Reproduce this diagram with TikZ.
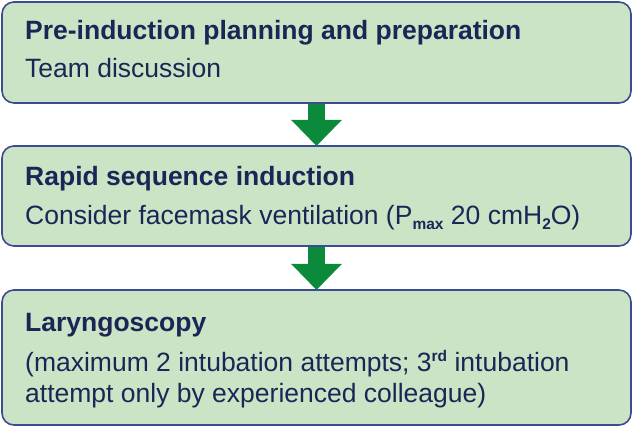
\documentclass[tikz,border=0pt]{standalone}
\usepackage{fontspec}
\setmainfont{Liberation Sans}
\usetikzlibrary{arrows.meta}
\definecolor{boxfill}{HTML}{CCE4C6}
\definecolor{boxline}{HTML}{3D4A94}
\definecolor{inktext}{HTML}{1C2555}
\definecolor{flowgreen}{HTML}{0B8A3B}
\newcommand{\lowidx}[1]{\raisebox{-0.35ex}{\fontsize{15.5}{15.5}\selectfont\bfseries #1}}
\newcommand{\highidx}[1]{\raisebox{0.75ex}{\fontsize{15.5}{15.5}\selectfont\bfseries #1}}
\tikzset{
  stage/.style={draw=boxline, line width=1.6pt, fill=boxfill, rounded corners=12pt,
    minimum width=629pt, inner sep=0pt, outer sep=0pt},
  heading/.style={anchor=base west, inner sep=0pt, text=inktext,
    font=\fontsize{26.5}{30}\selectfont\bfseries},
  body/.style={anchor=base west, inner sep=0pt, text=inktext, align=left,
    font=\fontsize{26.5}{31}\selectfont},
  flow/.style={flowgreen, line width=17pt,
    -{Triangle[width=49pt,length=26pt]}, shorten <=0.8pt}
}
\begin{document}
\begin{tikzpicture}[x=1pt,y=-1pt]
  \useasboundingbox (0,0) rectangle (633,427);
  % three stage boxes
  \node[stage, minimum height=101pt] (s1) at (316.5,52.5) {};
  \node[stage, minimum height=100pt] (s2) at (316.5,196) {};
  \node[stage, minimum height=135pt] (s3) at (316.5,357.5) {};
  % block arrows between stages
  \draw[flow] (s1.south) -- (s2.north);
  \draw[flow] (s2.south) -- (s3.north);
  % stage texts
  \node[heading] (h1) at (25,40) {Pre-induction planning and preparation};
  \node[body] (t1) at (25,78) {Team discussion};
  \node[heading] (h2) at (25,186) {Rapid sequence induction};
  \node[body] (t2) at (25,225) {Consider facemask ventilation (P\lowidx{max} 20 cmH\lowidx{2}O)};
  \node[heading] (h3) at (25,332) {Laryngoscopy};
  \node[body] (t3) at (25,372) {(maximum 2 intubation attempts; 3\highidx{rd} intubation};
  \node[body] (t4) at (25,403) {attempt only by experienced colleague)};
\end{tikzpicture}
\end{document}
